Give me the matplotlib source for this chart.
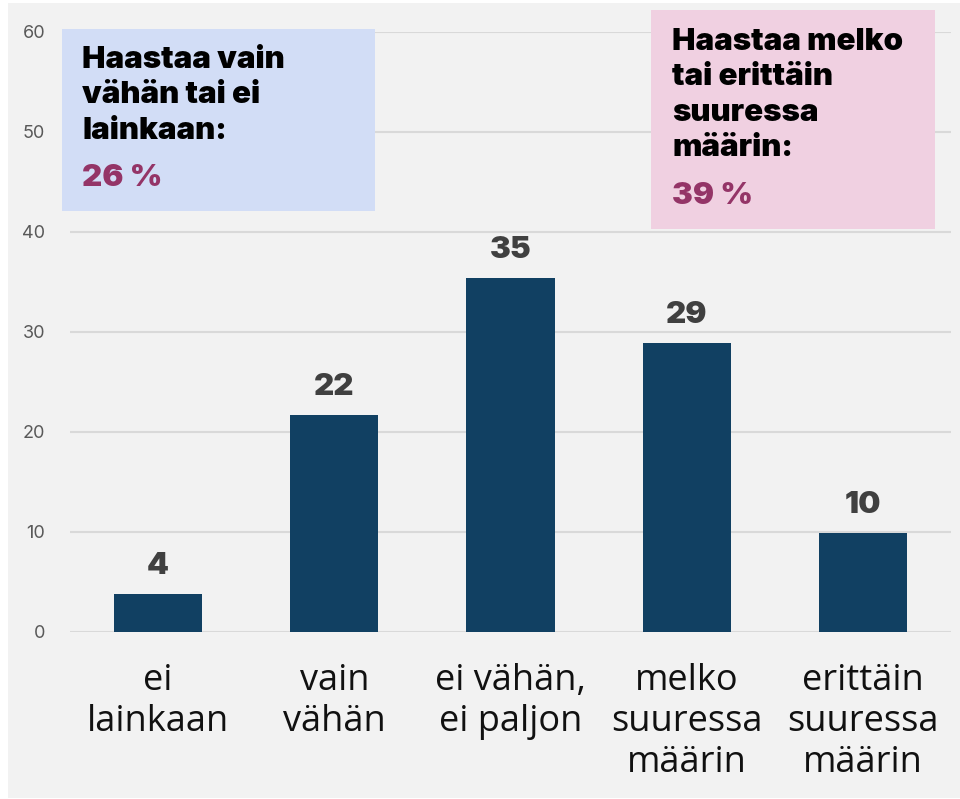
import matplotlib.pyplot as plt
from matplotlib.patches import Rectangle

categories = ["ei\nlainkaan", "vain\nvähän", "ei vähän,\nei paljon",
              "melko\nsuuressa\nmäärin", "erittäin\nsuuressa\nmäärin"]
values = [3.8, 21.7, 35.4, 28.9, 9.9]
value_labels = ["4", "22", "35", "29", "10"]
yticks = [0, 10, 20, 30, 40, 50, 60]

low_text = "Haastaa vain\nvähän tai ei\nlainkaan:"
low_pct = "26 %"
high_text = "Haastaa melko\ntai erittäin\nsuuressa\nmäärin:"
high_pct = "39 %"

W, H = 960, 799
fig = plt.figure(figsize=(9.6, 7.99), dpi=100)
fig.patch.set_facecolor("white")

def fx(px):
    return px / W

def fy(py):
    return 1 - py / H

# harmaa tausta
fig.patches.append(Rectangle((fx(8), fy(798)), fx(960) - fx(8), fy(3) - fy(798),
                             transform=fig.transFigure, facecolor="#f2f2f2",
                             edgecolor="none", zorder=-10))

ax = fig.add_axes([fx(70), fy(632), fx(951) - fx(70), fy(32) - fy(632)])
ax.set_facecolor("none")

x = list(range(len(categories)))
ax.bar(x, values, width=0.5, color="#114062", zorder=3)

for xi, v, lab in zip(x, values, value_labels):
    ax.annotate(lab, (xi, v), xytext=(0, 10), textcoords="offset points",
                ha="center", va="bottom", fontsize=22.5, fontweight="black",
                color="#404040", family="Inter")

ax.set_xlim(-0.5, 4.5)
ax.set_ylim(0, 60)
ax.set_yticks(yticks)
ax.set_yticklabels([str(t) for t in yticks], color="#595959", fontsize=13,
                   family="Inter")
ax.set_xticks(x)
ax.set_xticklabels(categories, fontsize=26, family="Open Sans",
                   color="#111111", linespacing=1.2)
ax.tick_params(axis="both", length=0)
ax.tick_params(axis="x", pad=22)
ax.tick_params(axis="y", pad=18)
ax.yaxis.grid(True, color="#d9d9d9", linewidth=1.5, zorder=0)
ax.set_axisbelow(True)
for s in ax.spines.values():
    s.set_visible(False)

# laatikot
fig.patches.append(Rectangle((fx(62), fy(211)), fx(375) - fx(62), fy(29) - fy(211),
                             transform=fig.transFigure, facecolor="#d2ddf6",
                             edgecolor="none", zorder=5))
fig.patches.append(Rectangle((fx(651), fy(229)), fx(935) - fx(651), fy(10) - fy(229),
                             transform=fig.transFigure, facecolor="#f0d0e1",
                             edgecolor="none", zorder=5))

fig.text(fx(82), fy(46), low_text, ha="left", va="top", fontsize=22.5,
         fontweight="black", color="black", family="Inter", linespacing=1.34, zorder=6)
fig.text(fx(82), fy(164), low_pct, ha="left", va="top", fontsize=22.5,
         fontweight="black", color="#943467", family="Inter", zorder=6)
fig.text(fx(672), fy(28), high_text, ha="left", va="top", fontsize=22.5,
         fontweight="black", color="black", family="Inter", linespacing=1.34, zorder=6)
fig.text(fx(672), fy(182), high_pct, ha="left", va="top", fontsize=22.5,
         fontweight="black", color="#943467", family="Inter", zorder=6)

plt.savefig("out.png", dpi=100)
